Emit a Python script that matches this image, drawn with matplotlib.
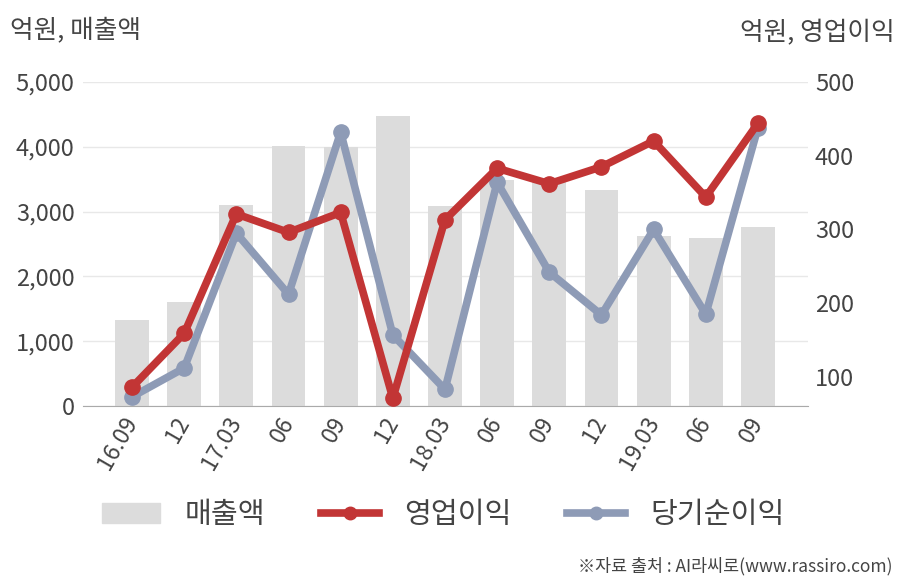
import numpy as np
import matplotlib.pyplot as plt
from matplotlib.patches import Patch
from matplotlib.lines import Line2D

plt.rcParams['font.family'] = ['Noto Sans CJK KR', 'DejaVu Sans']

quarters = ['16.09', '12', '17.03', '06', '09', '12', '18.03', '06', '09', '12', '19.03', '06', '09']
sales = [1330, 1600, 3100, 4020, 4000, 4480, 3080, 3490, 3460, 3340, 2630, 2590, 2770]
op_profit = [86, 159, 321, 296, 323, 71, 313, 383, 362, 385, 420, 344, 444]
net_profit = [73, 112, 295, 212, 432, 157, 83, 364, 242, 184, 300, 185, 438]

bar_c = '#dcdcdc'
red = '#c23535'
blue = '#8e9bb6'
txt = '#444444'

fig = plt.figure(figsize=(9.08, 5.8), dpi=100)
ax = fig.add_axes([83/908, 1-406/580, 725/908, 324/580])
x = np.arange(len(quarters))

ax.bar(x, sales, width=0.65, color=bar_c, zorder=2)
ax.set_ylim(0, 5000)
ax.set_xlim(-0.94, 12.96)
ax.set_yticks([0, 1000, 2000, 3000, 4000, 5000])
ax.set_yticklabels(['0', '1,000', '2,000', '3,000', '4,000', '5,000'])
ax.grid(axis='y', color='#e8e8e8', lw=1, zorder=0)
ax.set_axisbelow(True)
for s in ['top', 'right', 'left']:
    ax.spines[s].set_visible(False)
ax.spines['bottom'].set_color('#aaaaaa')
ax.tick_params(axis='y', length=0, pad=6, labelsize=17, labelcolor=txt)
ax.set_xticks(x)
ax.set_xticklabels(quarters, rotation=60, ha='right', va='center', rotation_mode='anchor')
ax.tick_params(axis='x', length=0, pad=9, labelsize=16.5, labelcolor=txt)

ax2 = ax.twinx()
ax2.plot(x, net_profit, color=blue, lw=5.5, marker='o', ms=11, zorder=3)
ax2.plot(x, op_profit, color=red, lw=5.5, marker='o', ms=11, zorder=4)
ax2.set_ylim(60.5, 500)
ax2.set_yticks([100, 200, 300, 400, 500])
for s in ['top', 'right', 'left', 'bottom']:
    ax2.spines[s].set_visible(False)
ax2.tick_params(axis='y', length=0, pad=5, labelsize=17, labelcolor=txt)

fig.text(10/908, 1-30/580, '억원, 매출액', fontsize=18.5, color=txt, va='center', ha='left')
fig.text(895/908, 1-33/580, '억원, 영업이익', fontsize=18.5, color=txt, va='center', ha='right')

handles = [Patch(color=bar_c),
           Line2D([], [], color=red, lw=5.5, marker='o', ms=9),
           Line2D([], [], color=blue, lw=5.5, marker='o', ms=9)]
fig.legend(handles, ['매출액', '영업이익', '당기순이익'], loc='center', bbox_to_anchor=(0.488, 1-515/580),
           ncol=3, frameon=False, fontsize=21, handlelength=2.0, handleheight=0.7,
           handletextpad=0.85, columnspacing=1.9, labelcolor=txt)

fig.text(893/908, 1-566/580, '※자료 출처 : AI라씨로(www.rassiro.com)', fontsize=12.5, color=txt,
         ha='right', va='center')

fig.savefig('out.png', dpi=100)
